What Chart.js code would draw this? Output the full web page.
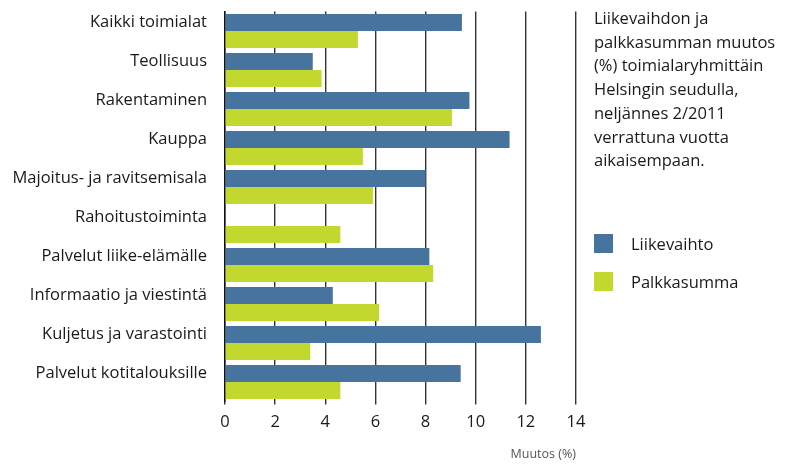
<!DOCTYPE html>
<html>
<head>
<meta charset="utf-8">
<script src="https://cdn.jsdelivr.net/npm/chart.js@4"></script>
<style>
  html, body { margin: 0; padding: 0; background: #fff; }
  #wrap { position: relative; width: 792px; height: 465px; font-family: "Open Sans", sans-serif; color: #1a1a1a; }
  #chart { position: absolute; left: 0; top: 0; }
  #title { position: absolute; left: 594px; top: 6px; font-size: 16.5px; line-height: 23.7px; }
  #legend { position: absolute; left: 594px; top: 224px; font-size: 16.5px; }
  .item { display: flex; align-items: center; height: 38px; }
  .box { width: 19px; height: 19px; margin-right: 18px; }
</style>
</head>
<body>
<div id="wrap">
  <canvas id="chart" width="792" height="465"></canvas>
  <div id="title">Liikevaihdon ja<br>palkkasumman muutos<br>(%) toimialaryhmittäin<br>Helsingin seudulla,<br>neljännes 2/2011<br>verrattuna vuotta<br>aikaisempaan.</div>
  <div id="legend"></div>
</div>
<script>
// ===== Data =====
const categories = [
  'Kaikki toimialat', 'Teollisuus', 'Rakentaminen', 'Kauppa', 'Majoitus- ja ravitsemisala',
  'Rahoitustoiminta', 'Palvelut liike-elämälle', 'Informaatio ja viestintä',
  'Kuljetus ja varastointi', 'Palvelut kotitalouksille'
];
const liikevaihto = [9.45, 3.5, 9.75, 11.35, 8.0, null, 8.15, 4.3, 12.6, 9.4];
const palkkasumma = [5.3, 3.85, 9.05, 5.5, 5.9, 4.6, 8.3, 6.15, 3.4, 4.6];
const xTicks = [0, 2, 4, 6, 8, 10, 12, 14];

const blue = '#47749f';
const green = '#c2d82e';
const font = '"Open Sans", sans-serif';

const chart = new Chart(document.getElementById('chart'), {
  type: 'bar',
  data: {
    labels: categories,
    datasets: [
      { label: 'Liikevaihto', data: liikevaihto, backgroundColor: blue, borderWidth: 0 },
      { label: 'Palkkasumma', data: palkkasumma, backgroundColor: green, borderWidth: 0 }
    ]
  },
  options: {
    indexAxis: 'y',
    responsive: false,
    animation: false,
    categoryPercentage: 0.872,
    barPercentage: 1,
    layout: { padding: { top: 11.5, right: 216, left: 0, bottom: 0 } },
    plugins: { legend: { display: false }, tooltip: { enabled: false } },
    scales: {
      x: {
        min: 0,
        max: 14,
        afterBuildTicks: scale => { scale.ticks = xTicks.map(v => ({ value: v })); },
        afterFit: scale => { scale.height = 63.5; scale.paddingLeft = 0; scale.paddingRight = 0; },
        grid: { color: '#333', lineWidth: 1.4, tickLength: 3, drawTicks: true },
        border: { display: false },
        ticks: { color: '#1a1a1a', font: { family: font, size: 16.5 }, padding: 8 },
        title: {
          display: true, text: 'Muutos (%)', align: 'end', color: '#555',
          font: { family: font, size: 12.5 }, padding: { top: 0, bottom: 3 }
        }
      },
      y: {
        afterFit: scale => { scale.width = 225; scale.paddingTop = 0; scale.paddingBottom = 0; },
        grid: { display: false },
        border: { display: true, color: '#111', width: 1.5 },
        ticks: { color: '#1a1a1a', font: { family: font, size: 16.5 }, padding: 10, labelOffset: -9 }
      }
    }
  }
});

// ===== HTML legend =====
const legendEl = document.getElementById('legend');
chart.data.datasets.forEach(ds => {
  const item = document.createElement('div');
  item.className = 'item';
  item.innerHTML = '<span class="box" style="background:' + ds.backgroundColor + '"></span>' + ds.label;
  legendEl.appendChild(item);
});
</script>
</body>
</html>
